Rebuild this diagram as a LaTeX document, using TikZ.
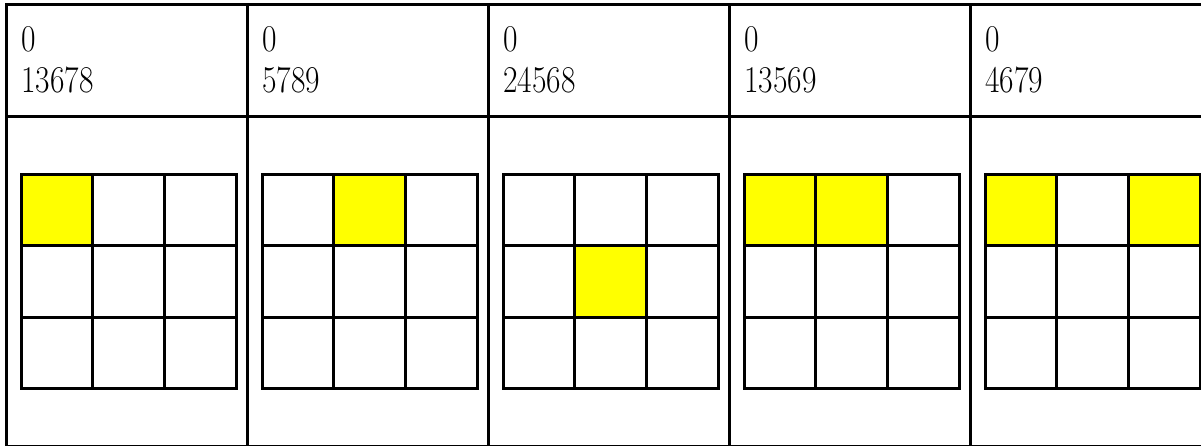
\documentclass[tikz,border=0pt]{standalone}
\usepackage{tikz}
\definecolor{cellyellow}{RGB}{255,255,0}
\newcommand{\cellbox}[3]{%
  ({21+#1*241+#3*71.67},{175+#2*71}) rectangle ++(71.67,71)}
\newcommand{\gridpanel}[1]{%
  \foreach \k in {0,...,3}
    {\draw ({21+#1*241+\k*71.67},175) -- ({21+#1*241+\k*71.67},388);
     \draw ({21+#1*241},{175+\k*71}) -- ({236+#1*241},{175+\k*71});}%
}

\begin{document}
\begin{tikzpicture}[x=1pt,y=-1pt,line width=3pt,line cap=rect,
    lbl/.style={anchor=base west,inner sep=0pt,font=\fontsize{31.5}{36}\selectfont}]
  \useasboundingbox (0,0) rectangle (1201,446);
  \fill[white] (0,0) rectangle (1201,446);
  % shaded cells
  \fill[cellyellow] \cellbox{0}{0}{0};
  \fill[cellyellow] \cellbox{1}{0}{1};
  \fill[cellyellow] \cellbox{2}{1}{1};
  \fill[cellyellow] \cellbox{3}{0}{0} \cellbox{3}{0}{1};
  \fill[cellyellow] \cellbox{4}{0}{0} \cellbox{4}{0}{2};
  \foreach \p in {0,...,4}
    {\gridpanel{\p}}
  % table frame
  \draw (6,5) -- (1201,5);
  \draw (6,117) -- (1201,117);
  \draw[line width=1.5pt] (6,445.5) -- (1201,445.5);
  \foreach \p in {0,...,4}
    {\draw ({6+\p*241},5) -- ({6+\p*241},446);}
  % headers
  \foreach \p/\c in {0/13678,1/5789,2/24568,3/13569,4/4679}
    {\node[lbl] (zero\p) at ({20+\p*241},52) {\scalebox{1}[1.2]{0}};
     \node[lbl] (code\p) at ({20+\p*241},93) {\scalebox{1}[1.2]{\c}};}
\end{tikzpicture}
\end{document}
